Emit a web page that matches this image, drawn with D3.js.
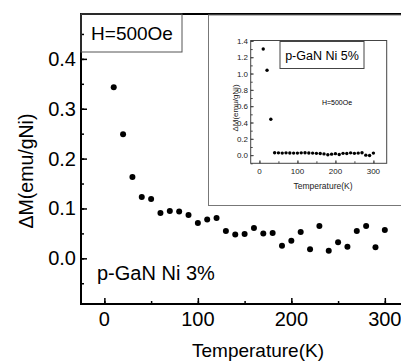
<!DOCTYPE html>
<html>
<head>
<meta charset="utf-8">
<script src="https://cdn.jsdelivr.net/npm/d3@7"></script>
<style>
body { margin: 0; background: #fff; }
text { font-family: "Liberation Sans", Arial, sans-serif; fill: #000; }
</style>
</head>
<body>
<div id="chart"></div>
<script>
// main data: p-GaN Ni 3%
var temps = [10,20,30,40,50,60,70,80,90,100,110,120,130,140,150,160,170,180,190,200,210,220,230,240,250,260,270,280,290,300];
var dm3 = [0.343,0.249,0.163,0.123,0.119,0.091,0.095,0.094,0.087,0.071,0.078,0.081,0.055,0.048,0.049,0.061,0.050,0.051,0.025,0.035,0.053,0.018,0.065,0.015,0.032,0.023,0.055,0.065,0.022,0.057];
// inset data: p-GaN Ni 5%
var dm5 = [1.30,1.04,0.44,0.030,0.028,0.025,0.028,0.027,0.025,0.025,0.028,0.030,0.027,0.025,0.022,0.020,0.015,0.005,0.012,0.018,0.008,0.022,0.020,0.028,0.022,0.025,0.030,0.000,-0.005,0.025];
var xTicks = [0,100,200,300];
var yTicks = [0.0,0.1,0.2,0.3,0.4];
var insetYTicks = [0.0,0.2,0.4,0.6,0.8,1.0,1.2,1.4];

var W = 401, H = 364;
var svg = d3.select("#chart").append("svg")
    .attr("width", W)
    .attr("height", H);

// scales of the main plot
var x = d3.scaleLinear().domain([-25, 317.3]).range([81, 401]);
var y = d3.scaleLinear().domain([-0.0916, 0.49]).range([304, 14]);

// main axes (ticks point inwards)
svg.append("g")
    .attr("transform", "translate(0,304)")
    .call(d3.axisTop(x).tickValues(d3.range(0, 317, 50)).tickSize(3).tickFormat(""))
    .call(function(g){ g.select(".domain").remove(); g.selectAll("line").attr("stroke-width", 1.5); });
svg.append("g")
    .attr("transform", "translate(0,304)")
    .call(d3.axisTop(x).tickValues(xTicks).tickSize(6).tickFormat(""))
    .call(function(g){ g.select(".domain").remove(); g.selectAll("line").attr("stroke-width", 1.5); });
svg.append("g")
    .attr("transform", "translate(81,0)")
    .call(d3.axisRight(y).tickValues(d3.range(-0.05, 0.49, 0.05)).tickSize(3).tickFormat(""))
    .call(function(g){ g.select(".domain").remove(); g.selectAll("line").attr("stroke-width", 1.5); });
svg.append("g")
    .attr("transform", "translate(81,0)")
    .call(d3.axisRight(y).tickValues(yTicks).tickSize(6).tickFormat(""))
    .call(function(g){ g.select(".domain").remove(); g.selectAll("line").attr("stroke-width", 1.5); });

// tick labels
svg.selectAll(".xlab")
    .data(xTicks)
    .enter()
    .append("text")
    .attr("x", function(d){ return x(d); })
    .attr("y", 326)
    .attr("text-anchor", "middle")
    .style("font-size", "20px")
    .text(function(d){ return d; });
svg.selectAll(".ylab")
    .data(yTicks)
    .enter()
    .append("text")
    .attr("x", 76)
    .attr("y", function(d){ return y(d) + 7; })
    .attr("text-anchor", "end")
    .style("font-size", "20px")
    .text(function(d){ return d.toFixed(1); });

// frame lines
svg.append("line").attr("x1", 81).attr("x2", 81).attr("y1", 13).attr("y2", 305)
    .attr("stroke", "#000").attr("stroke-width", 2);
svg.append("line").attr("x1", 80).attr("x2", 401).attr("y1", 304).attr("y2", 304)
    .attr("stroke", "#000").attr("stroke-width", 2);
svg.append("line").attr("x1", 80).attr("x2", 401).attr("y1", 14).attr("y2", 14)
    .attr("stroke", "#000").attr("stroke-width", 2);

// axis titles
svg.append("text")
    .attr("x", 258)
    .attr("y", 357)
    .attr("text-anchor", "middle")
    .style("font-size", "19px")
    .text("Temperature(K)");
svg.append("text")
    .attr("transform", "translate(33,171) rotate(-90)")
    .attr("text-anchor", "middle")
    .style("font-size", "19.5px")
    .text("\u0394M(emu/gNi)");

// H=500Oe box
svg.append("rect")
    .attr("x", 81).attr("y", 14).attr("width", 101).attr("height", 38)
    .attr("fill", "none").attr("stroke", "#555").attr("stroke-width", 1);
svg.append("text")
    .attr("x", 132)
    .attr("y", 40)
    .attr("text-anchor", "middle")
    .style("font-size", "19px")
    .text("H=500Oe");

svg.append("text")
    .attr("x", 97)
    .attr("y", 280)
    .style("font-size", "20px")
    .text("p-GaN Ni 3%");

// main points
svg.selectAll(".dot3")
    .data(temps)
    .enter()
    .append("circle")
    .attr("cx", function(d){ return x(d); })
    .attr("cy", function(d, i){ return y(dm3[i]); })
    .attr("r", 3)
    .attr("fill", "#000");

// ---- inset ----
svg.append("rect")
    .attr("x", 208.5).attr("y", 15).attr("width", 200).attr("height", 190.5)
    .attr("fill", "#fff").attr("stroke", "#777").attr("stroke-width", 1);

var xi = d3.scaleLinear().domain([-23, 335]).range([250.7, 386.7]);
var yi = d3.scaleLinear().domain([-0.1, 1.405]).range([163.3, 40.5]);

svg.append("rect")
    .attr("x", 250.7).attr("y", 40.5).attr("width", 136).attr("height", 122.8)
    .attr("fill", "none").attr("stroke", "#444").attr("stroke-width", 1);

svg.append("g")
    .attr("transform", "translate(0,163.3)")
    .call(d3.axisTop(xi).tickValues(d3.range(0, 335, 50)).tickSize(2).tickFormat(""))
    .call(function(g){ g.select(".domain").remove(); g.selectAll("line").attr("stroke", "#444"); });
svg.append("g")
    .attr("transform", "translate(0,163.3)")
    .call(d3.axisTop(xi).tickValues(xTicks).tickSize(3).tickFormat(""))
    .call(function(g){ g.select(".domain").remove(); g.selectAll("line").attr("stroke", "#444"); });
svg.append("g")
    .attr("transform", "translate(250.7,0)")
    .call(d3.axisRight(yi).tickValues(d3.range(-0.1, 1.41, 0.1)).tickSize(2).tickFormat(""))
    .call(function(g){ g.select(".domain").remove(); g.selectAll("line").attr("stroke", "#444"); });
svg.append("g")
    .attr("transform", "translate(250.7,0)")
    .call(d3.axisRight(yi).tickValues(insetYTicks).tickSize(3).tickFormat(""))
    .call(function(g){ g.select(".domain").remove(); g.selectAll("line").attr("stroke", "#444"); });

svg.selectAll(".xilab")
    .data(xTicks)
    .enter()
    .append("text")
    .attr("x", function(d){ return xi(d); })
    .attr("y", 174)
    .attr("text-anchor", "middle")
    .style("font-size", "8px")
    .style("fill", "#222")
    .text(function(d){ return d; });
svg.selectAll(".yilab")
    .data(insetYTicks)
    .enter()
    .append("text")
    .attr("x", 248)
    .attr("y", function(d){ return yi(d) + 3; })
    .attr("text-anchor", "end")
    .style("font-size", "8px")
    .style("fill", "#222")
    .text(function(d){ return d.toFixed(1); });

svg.append("text")
    .attr("x", 323)
    .attr("y", 189)
    .attr("text-anchor", "middle")
    .style("font-size", "8.5px")
    .style("fill", "#222")
    .text("Temperature(K)");
svg.append("text")
    .attr("transform", "translate(238,108) rotate(-90)")
    .attr("text-anchor", "middle")
    .style("font-size", "8px")
    .style("fill", "#222")
    .text("\u0394M(emu/gNi)");

svg.append("rect")
    .attr("x", 280).attr("y", 41.5).attr("width", 84).attr("height", 27)
    .attr("fill", "none").attr("stroke", "#444").attr("stroke-width", 1);
svg.append("text")
    .attr("x", 322)
    .attr("y", 60)
    .attr("text-anchor", "middle")
    .style("font-size", "12.5px")
    .text("p-GaN Ni 5%");
svg.append("text")
    .attr("x", 337)
    .attr("y", 105)
    .attr("text-anchor", "middle")
    .style("font-size", "7px")
    .text("H=500Oe");

svg.selectAll(".dot5")
    .data(temps)
    .enter()
    .append("circle")
    .attr("cx", function(d){ return xi(d); })
    .attr("cy", function(d, i){ return yi(dm5[i]); })
    .attr("r", 1.7)
    .attr("fill", "#000");
</script>
</body>
</html>
